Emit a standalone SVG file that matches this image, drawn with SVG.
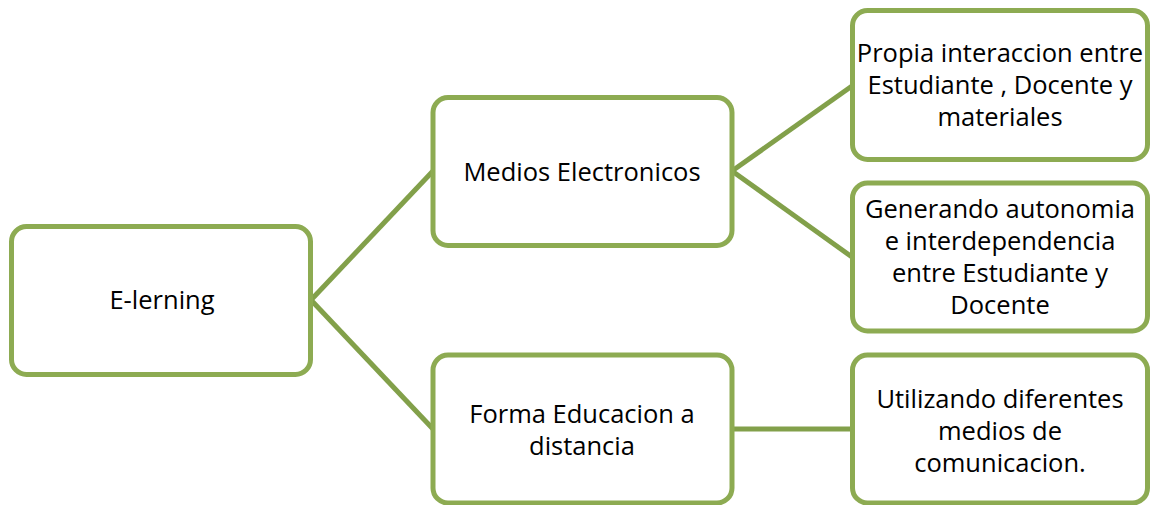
<svg xmlns="http://www.w3.org/2000/svg" width="1150" height="505" viewBox="0 0 1150 505">
<style>
.box{fill:#ffffff;stroke:#8DAB52;stroke-width:5}
.lnk{stroke:#82A04A;stroke-width:5;fill:none}
text{font-family:"Open Sans","Liberation Sans",sans-serif;font-size:25.5px;fill:#000;text-anchor:middle}
</style>
<rect width="1150" height="505" fill="#ffffff"/>
<g id="connectors">
<line class="lnk" x1="311" y1="300" x2="433" y2="171"/>
<line class="lnk" x1="311" y1="300" x2="433" y2="429"/>
<line class="lnk" x1="732" y1="171" x2="852" y2="86"/>
<line class="lnk" x1="732" y1="171" x2="852" y2="257"/>
<line class="lnk" x1="732" y1="429" x2="852" y2="429"/>
</g>
<g id="n-elearning">
<rect class="box" x="11.5" y="226.5" width="299" height="148" rx="15"/>
<text x="162" y="309">E-lerning</text>
</g>
<g id="n-medios">
<rect class="box" x="433" y="97.5" width="299" height="148" rx="15"/>
<text x="582" y="181">Medios Electronicos</text>
</g>
<g id="n-forma">
<rect class="box" x="433" y="355" width="299" height="148" rx="15"/>
<text x="582" y="423">Forma Educacion a</text>
<text x="582" y="455">distancia</text>
</g>
<g id="n-propia">
<rect class="box" x="852.5" y="10.5" width="295" height="149" rx="15"/>
<text x="1000" y="62">Propia interaccion entre</text>
<text x="1000" y="94">Estudiante , Docente y</text>
<text x="1000" y="126">materiales</text>
</g>
<g id="n-generando">
<rect class="box" x="852.5" y="183" width="295" height="148" rx="15"/>
<text x="1000" y="218">Generando autonomia</text>
<text x="1000" y="250">e interdependencia</text>
<text x="1000" y="282">entre Estudiante y</text>
<text x="1000" y="314">Docente</text>
</g>
<g id="n-utilizando">
<rect class="box" x="852.5" y="355" width="295" height="148" rx="15"/>
<text x="1000" y="408">Utilizando diferentes</text>
<text x="1000" y="440">medios de</text>
<text x="1000" y="472">comunicacion.</text>
</g>
</svg>
